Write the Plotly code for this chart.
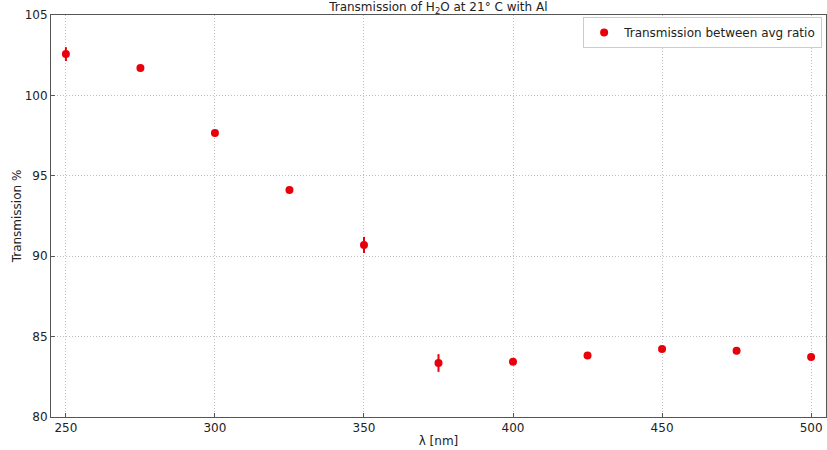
import plotly.graph_objects as go

wavelength = [250, 275, 300, 325, 350, 375, 400, 425, 450, 475, 500]
transmission = [102.57, 101.70, 97.66, 94.12, 90.70, 83.36, 83.43, 83.82, 84.23, 84.12, 83.73]
errors = [0.43, 0.2, 0.1, 0.1, 0.5, 0.55, 0.1, 0.1, 0.1, 0.22, 0.1]
x_ticks = [250, 300, 350, 400, 450, 500]
y_ticks = [80, 85, 90, 95, 100, 105]

fig = go.Figure()
fig.add_trace(go.Scatter(
    x=wavelength, y=transmission, mode="markers",
    name="Transmission between avg ratio",
    marker=dict(color="#e8000b", size=8, line=dict(width=0)),
    error_y=dict(type="data", array=errors, visible=True, color="#e8000b", thickness=2, width=0),
))

axis_common = dict(
    showline=True, linecolor="#555555", linewidth=1, mirror=True,
    showgrid=True, gridcolor="#c0c0c0", griddash="1px,2px", gridwidth=1,
    zeroline=False, ticks="inside", ticklen=4, tickcolor="#555555",
    tickfont=dict(size=12, color="#222222"),
)
fig.update_layout(
    width=827, height=450,
    margin=dict(l=51, r=1, t=15, b=33),
    paper_bgcolor="white", plot_bgcolor="white",
    font=dict(family="DejaVu Sans", size=12, color="#222222"),
    title=dict(text="Transmission of H<sub>2</sub>O at 21° C with Al",
               x=0.53, xanchor="center", y=0.994, yanchor="top", font=dict(size=12)),
    xaxis=dict(range=[245, 505], tickvals=x_ticks,
               title=dict(text="λ [nm]", standoff=2, font=dict(size=12)), **axis_common),
    yaxis=dict(range=[80, 105], tickvals=y_ticks,
               title=dict(text="Transmission %", standoff=0, font=dict(size=12)), **axis_common),
    legend=dict(x=0.995, y=0.995, xanchor="right", yanchor="top",
                bordercolor="#cccccc", borderwidth=1, bgcolor="white",
                font=dict(size=12), tracegroupgap=0, itemwidth=30),
    showlegend=True,
)
fig.write_html("out.html", config={"displayModeBar": False},
               post_script="document.body.style.margin='0';document.body.style.padding='0';")
